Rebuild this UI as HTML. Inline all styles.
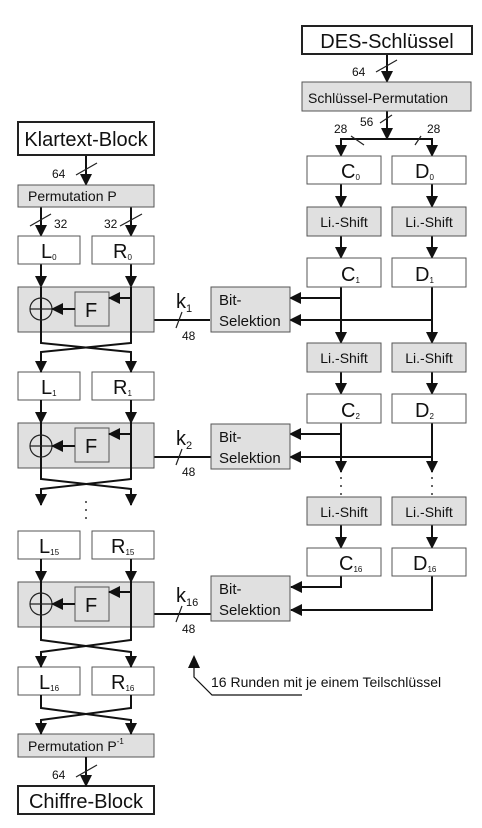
<!DOCTYPE html>
<html><head><meta charset="utf-8"><style>
html,body{margin:0;padding:0;background:#fff}
svg{display:block}
text{font-family:"Liberation Sans",Arial,sans-serif;fill:#111}
</style></head><body>
<svg width="482" height="828" viewBox="0 0 482 828" xmlns="http://www.w3.org/2000/svg" font-family="'Liberation Sans', Arial, sans-serif">
<defs>
<marker id="a" markerUnits="userSpaceOnUse" markerWidth="12" markerHeight="12" viewBox="0 0 12 12" refX="11" refY="6" orient="auto"><path d="M0,0 L12,6 L0,12 z" fill="#111"/></marker>
</defs>
<g stroke="#111" stroke-width="2" fill="none">
<line x1="86" y1="155" x2="86" y2="185" marker-end="url(#a)"/>
<line x1="41" y1="207" x2="41" y2="236" marker-end="url(#a)"/>
<line x1="131" y1="207" x2="131" y2="236" marker-end="url(#a)"/>
<line x1="41" y1="264" x2="41" y2="287" marker-end="url(#a)"/>
<line x1="131" y1="264" x2="131" y2="287" marker-end="url(#a)"/>
<line x1="387" y1="54" x2="387" y2="82" marker-end="url(#a)"/>
<line x1="387" y1="111" x2="387" y2="139" marker-end="url(#a)"/>
<polyline points="341,156 341,139 432,139 432,156"/>
<line x1="341" y1="139" x2="341" y2="156" marker-end="url(#a)"/>
<line x1="432" y1="139" x2="432" y2="156" marker-end="url(#a)"/>
<line x1="341" y1="184" x2="341" y2="207" marker-end="url(#a)"/>
<line x1="432" y1="184" x2="432" y2="207" marker-end="url(#a)"/>
<line x1="341" y1="236" x2="341" y2="258" marker-end="url(#a)"/>
<line x1="432" y1="236" x2="432" y2="258" marker-end="url(#a)"/>
<line x1="341" y1="287" x2="341" y2="343" marker-end="url(#a)"/>
<line x1="432" y1="287" x2="432" y2="343" marker-end="url(#a)"/>
<line x1="341" y1="298" x2="290" y2="298" marker-end="url(#a)"/>
<line x1="432" y1="320" x2="290" y2="320" marker-end="url(#a)"/>
<line x1="341" y1="372" x2="341" y2="394" marker-end="url(#a)"/>
<line x1="432" y1="372" x2="432" y2="394" marker-end="url(#a)"/>
<line x1="341" y1="423" x2="341" y2="472" marker-end="url(#a)"/>
<line x1="432" y1="423" x2="432" y2="472" marker-end="url(#a)"/>
<line x1="341" y1="434" x2="290" y2="434" marker-end="url(#a)"/>
<line x1="432" y1="457" x2="290" y2="457" marker-end="url(#a)"/>
<line x1="341" y1="525" x2="341" y2="548" marker-end="url(#a)"/>
<line x1="432" y1="525" x2="432" y2="548" marker-end="url(#a)"/>
<polyline points="341,576 341,587 291,587" marker-end="url(#a)"/>
<polyline points="432,576 432,610 291,610" marker-end="url(#a)"/>
<line x1="210" y1="320" x2="109" y2="320" marker-end="url(#a)"/>
<line x1="211" y1="457" x2="109" y2="457" marker-end="url(#a)"/>
<line x1="211" y1="614" x2="109" y2="614" marker-end="url(#a)"/>
</g>
<g stroke="#222" stroke-width="2" fill="#fff">
<rect x="18" y="122" width="136" height="33"/>
<rect x="302" y="26" width="170" height="28"/>
<rect x="18" y="786" width="136" height="28"/>
</g>
<g stroke="#555" stroke-width="1" fill="#e0e0e0">
<rect x="18" y="185" width="136" height="22"/>
<rect x="302" y="82" width="169" height="29"/>
<rect x="18" y="287" width="136" height="45"/>
<rect x="18" y="423" width="136" height="45"/>
<rect x="18" y="582" width="136" height="45"/>
<rect x="211" y="287" width="79" height="45"/>
<rect x="211" y="424" width="79" height="45"/>
<rect x="211" y="576" width="79" height="45"/>
<rect x="307" y="207" width="74" height="29"/>
<rect x="392" y="207" width="74" height="29"/>
<rect x="307" y="343" width="74" height="29"/>
<rect x="392" y="343" width="74" height="29"/>
<rect x="307" y="497" width="74" height="28"/>
<rect x="392" y="497" width="74" height="28"/>
<rect x="18" y="734" width="136" height="23"/>
<rect x="75" y="292" width="34" height="34"/>
<rect x="75" y="428" width="34" height="34"/>
<rect x="75" y="587" width="34" height="34"/>
</g>
<g stroke="#555" stroke-width="1" fill="#fff">
<rect x="18" y="236" width="62" height="28"/><rect x="92" y="236" width="62" height="28"/>
<rect x="18" y="372" width="62" height="28"/><rect x="92" y="372" width="62" height="28"/>
<rect x="18" y="531" width="62" height="28"/><rect x="92" y="531" width="62" height="28"/>
<rect x="18" y="667" width="62" height="28"/><rect x="92" y="667" width="62" height="28"/>
<rect x="307" y="156" width="74" height="28"/><rect x="392" y="156" width="74" height="28"/>
<rect x="307" y="258" width="74" height="29"/><rect x="392" y="258" width="74" height="29"/>
<rect x="307" y="394" width="74" height="29"/><rect x="392" y="394" width="74" height="29"/>
<rect x="307" y="548" width="74" height="28"/><rect x="392" y="548" width="74" height="28"/>
</g>
<g stroke="#111" stroke-width="2" fill="none">
<polyline points="41,287 41,343 131,352 131,372" /><line x1="131" y1="362" x2="131" y2="372" marker-end="url(#a)"/>
<polyline points="131,287 131,343 41,352 41,372"/><line x1="41" y1="362" x2="41" y2="372" marker-end="url(#a)"/>
<line x1="131" y1="298" x2="109" y2="298" marker-end="url(#a)"/>
<line x1="75" y1="309" x2="52" y2="309" marker-end="url(#a)"/>
<line x1="41" y1="400" x2="41" y2="423" marker-end="url(#a)"/>
<line x1="131" y1="400" x2="131" y2="423" marker-end="url(#a)"/>
<polyline points="41,423 41,479 131,489 131,505"/><line x1="131" y1="495" x2="131" y2="505" marker-end="url(#a)"/>
<polyline points="131,423 131,479 41,489 41,505"/><line x1="41" y1="495" x2="41" y2="505" marker-end="url(#a)"/>
<line x1="131" y1="434" x2="109" y2="434" marker-end="url(#a)"/>
<line x1="75" y1="446" x2="52" y2="446" marker-end="url(#a)"/>
<line x1="41" y1="559" x2="41" y2="582" marker-end="url(#a)"/>
<line x1="131" y1="559" x2="131" y2="582" marker-end="url(#a)"/>
<polyline points="41,582 41,640 131,652 131,667"/><line x1="131" y1="657" x2="131" y2="667" marker-end="url(#a)"/>
<polyline points="131,582 131,640 41,652 41,667"/><line x1="41" y1="657" x2="41" y2="667" marker-end="url(#a)"/>
<line x1="131" y1="592" x2="109" y2="592" marker-end="url(#a)"/>
<line x1="75" y1="604" x2="52" y2="604" marker-end="url(#a)"/>
<polyline points="41,695 41,708 131,720 131,734"/><line x1="131" y1="724" x2="131" y2="734" marker-end="url(#a)"/>
<polyline points="131,695 131,708 41,720 41,734"/><line x1="41" y1="724" x2="41" y2="734" marker-end="url(#a)"/>
<line x1="86" y1="757" x2="86" y2="786" marker-end="url(#a)"/>
<polyline points="194,662 194,677 212,695 302,695" stroke-width="1.2"/>
</g>
<path d="M188,668 L194,655 L200,668 z" fill="#111"/>
<g stroke="#222" stroke-width="1.2" fill="none">
<circle cx="41" cy="309" r="11"/><line x1="30" y1="309" x2="52" y2="309"/>
<circle cx="41" cy="446" r="11"/><line x1="30" y1="446" x2="52" y2="446"/>
<circle cx="41" cy="604" r="11"/><line x1="30" y1="604" x2="52" y2="604"/>
<line x1="76" y1="175" x2="97" y2="163"/>
<line x1="30" y1="226" x2="51" y2="214"/>
<line x1="120" y1="226" x2="142" y2="214"/>
<line x1="376" y1="72" x2="397" y2="60"/>
<line x1="380" y1="123" x2="392" y2="115"/>
<line x1="351" y1="136" x2="364" y2="145"/><line x1="415" y1="145" x2="421" y2="136"/>
<line x1="176" y1="328" x2="182" y2="312"/>
<line x1="176" y1="465" x2="182" y2="449"/>
<line x1="176" y1="622" x2="182" y2="606"/>
<line x1="76" y1="777" x2="97" y2="765"/>
</g>
<g fill="#333">
<circle cx="86" cy="502" r="1"/><circle cx="86" cy="510" r="1"/><circle cx="86" cy="518" r="1"/>
<circle cx="341" cy="478" r="1"/><circle cx="341" cy="486" r="1"/><circle cx="341" cy="494" r="1"/>
<circle cx="432" cy="478" r="1"/><circle cx="432" cy="486" r="1"/><circle cx="432" cy="494" r="1"/>
</g>
<g font-size="20" text-anchor="middle">
<text x="86" y="146">Klartext-Block</text>
<text x="387" y="48">DES-Schlüssel</text>
<text x="86" y="808">Chiffre-Block</text>
</g>
<g font-size="14">
<text x="28" y="201">Permutation  P</text>
<text x="28" y="751">Permutation  P<tspan font-size="8" dy="-7">-1</tspan></text>
<text x="308" y="103">Schlüssel-Permutation</text>
<text x="211" y="687">16 Runden mit je einem Teilschlüssel</text>
</g>
<g font-size="14" text-anchor="middle">
<text x="344" y="227">Li.-Shift</text><text x="429" y="227">Li.-Shift</text>
<text x="344" y="363">Li.-Shift</text><text x="429" y="363">Li.-Shift</text>
<text x="344" y="517">Li.-Shift</text><text x="429" y="517">Li.-Shift</text>
</g>
<g font-size="15">
<text x="219" y="305">Bit-</text><text x="219" y="326">Selektion</text>
<text x="219" y="442">Bit-</text><text x="219" y="463">Selektion</text>
<text x="219" y="594">Bit-</text><text x="219" y="615">Selektion</text>
</g>
<g font-size="12">
<text x="52" y="178">64</text>
<text x="54" y="228">32</text><text x="104" y="228">32</text>
<text x="352" y="76">64</text>
<text x="360" y="126">56</text>
<text x="334" y="133">28</text><text x="427" y="133">28</text>
<text x="182" y="340">48</text><text x="182" y="476">48</text><text x="182" y="633">48</text>
<text x="52" y="779">64</text>
</g>
<g font-size="20">
<text x="176" y="308">k<tspan font-size="11" dy="4">1</tspan></text>
<text x="176" y="445">k<tspan font-size="11" dy="4">2</tspan></text>
<text x="176" y="602">k<tspan font-size="11" dy="4">16</tspan></text>
<text x="41" y="258">L<tspan font-size="8" dy="2">0</tspan></text>
<text x="113" y="258">R<tspan font-size="8" dy="2">0</tspan></text>
<text x="41" y="394">L<tspan font-size="8" dy="2">1</tspan></text>
<text x="113" y="394">R<tspan font-size="8" dy="2">1</tspan></text>
<text x="39" y="553">L<tspan font-size="8" dy="2">15</tspan></text>
<text x="111" y="553">R<tspan font-size="8" dy="2">15</tspan></text>
<text x="39" y="689">L<tspan font-size="8" dy="2">16</tspan></text>
<text x="111" y="689">R<tspan font-size="8" dy="2">16</tspan></text>
<text x="341" y="178">C<tspan font-size="8" dy="2">0</tspan></text>
<text x="415" y="178">D<tspan font-size="8" dy="2">0</tspan></text>
<text x="341" y="281">C<tspan font-size="8" dy="2">1</tspan></text>
<text x="415" y="281">D<tspan font-size="8" dy="2">1</tspan></text>
<text x="341" y="417">C<tspan font-size="8" dy="2">2</tspan></text>
<text x="415" y="417">D<tspan font-size="8" dy="2">2</tspan></text>
<text x="339" y="570">C<tspan font-size="8" dy="2">16</tspan></text>
<text x="413" y="570">D<tspan font-size="8" dy="2">16</tspan></text>
<text x="85" y="317">F</text>
<text x="85" y="453">F</text>
<text x="85" y="612">F</text>
</g>
</svg>
</body></html>
